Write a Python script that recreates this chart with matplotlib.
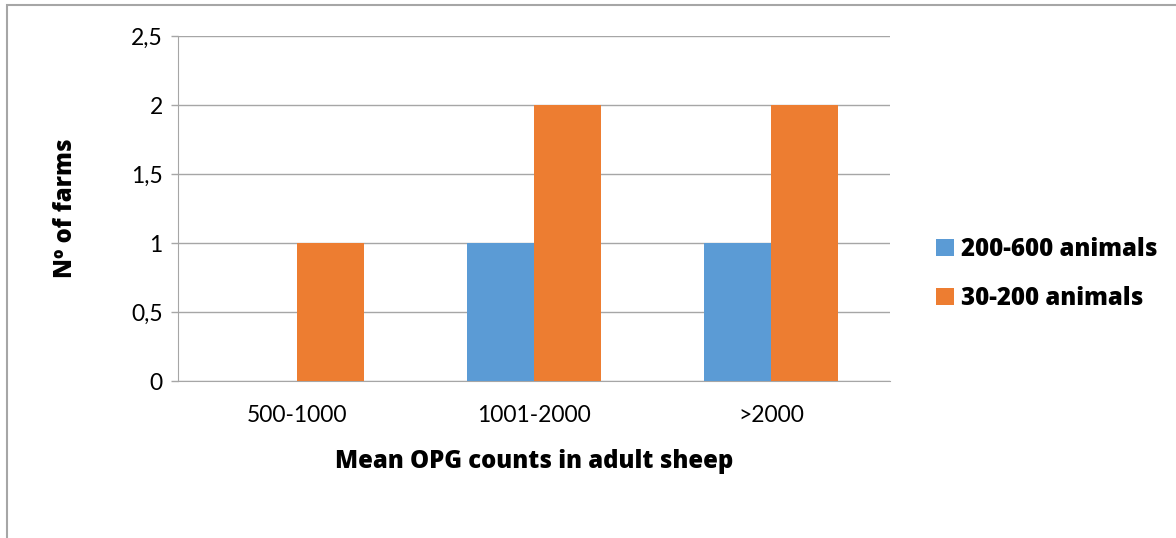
import matplotlib.pyplot as plt
import matplotlib.patches as mpatches
import numpy as np

plt.rcParams['font.family'] = ['Lato', 'DejaVu Sans']

categories = ['500-1000', '1001-2000', '>2000']
large_farms = [0, 1, 1]     # 200-600 animals
small_farms = [1, 2, 2]     # 30-200 animals
y_ticks = [0, 0.5, 1, 1.5, 2, 2.5]
y_tick_labels = ['0', '0,5', '1', '1,5', '2', '2,5']

blue = '#5B9BD5'
orange = '#ED7D31'
grid_grey = '#A6A6A6'
bold_font = {'family': ['Open Sans', 'DejaVu Sans'], 'weight': 800, 'size': 17.2}

fig = plt.figure(figsize=(11.76, 5.38), dpi=100)
ax = fig.add_axes([178 / 1176, 1 - 381 / 538, (890 - 178) / 1176, (381 - 36) / 538])

x = np.arange(len(categories))
w = 0.283
ax.bar(x - w / 2, large_farms, w, color=blue, label='200-600 animals', zorder=3)
ax.bar(x + w / 2, small_farms, w, color=orange, label='30-200 animals', zorder=3)

ax.set_xlim(-0.5, 2.5)
ax.set_ylim(0, 2.5)
ax.set_yticks(y_ticks)
ax.set_yticklabels(y_tick_labels)
ax.set_xticks(x)
ax.set_xticklabels(categories)
ax.tick_params(axis='x', length=0, pad=17, labelsize=16.5)
ax.tick_params(axis='y', length=5, width=1, color=grid_grey, pad=6, labelsize=16.5)
ax.yaxis.grid(True, color=grid_grey, linewidth=1, zorder=0)

for s in ['top', 'right']:
    ax.spines[s].set_visible(False)
ax.spines['left'].set_color(grid_grey)
ax.spines['bottom'].set_color(grid_grey)

ax.set_xlabel('Mean OPG counts in adult sheep', fontdict=bold_font, labelpad=17)
ax.set_ylabel('Nº of farms', fontdict=bold_font, labelpad=38)

fig.legend(loc='center left', bbox_to_anchor=(915 / 1176, 1 - 274 / 538), frameon=False,
           prop=bold_font, handlelength=0.72, handleheight=0.72,
           handletextpad=0.3, labelspacing=1.0)

border = mpatches.Rectangle((7 / 1176, -0.1), 1.1, 1.1 - 5 / 538,
                            transform=fig.transFigure, fill=False, edgecolor=grid_grey,
                            linewidth=1.5, clip_on=False)
fig.patches.append(border)

plt.savefig('out.png', dpi=100)
